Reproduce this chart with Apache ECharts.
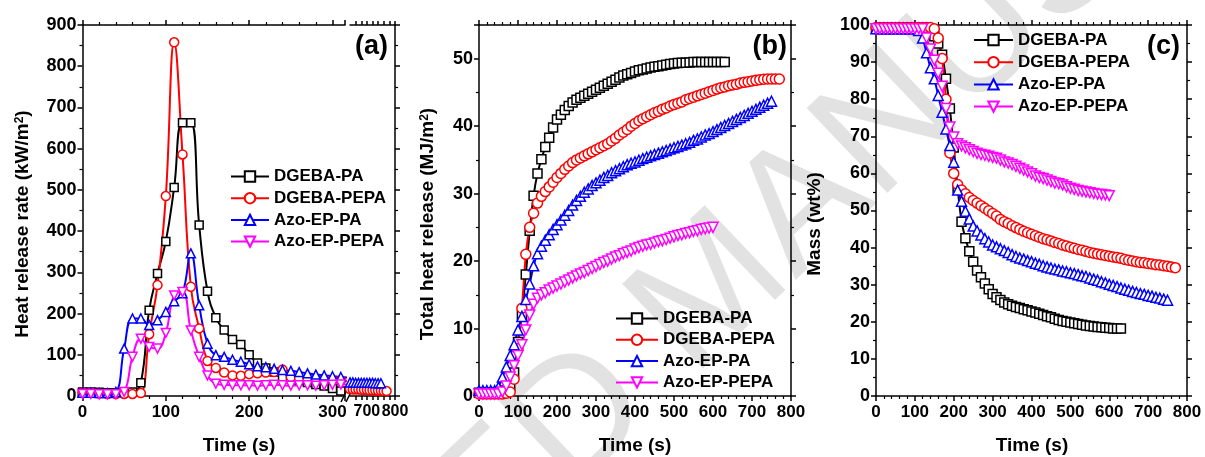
<!DOCTYPE html>
<html>
<head>
<meta charset="utf-8">
<title>HRR, THR and mass</title>
<script src="https://cdn.jsdelivr.net/npm/echarts@6.0.0/dist/echarts.min.js"></script>
<style>
  html, body { margin: 0; padding: 0; background: #fff; }
  #chart { width: 1205px; height: 457px; }
</style>
</head>
<body>
<div id="chart"></div>
<script>
// samples, same order in every panel
const sampleNames = ['DGEBA-PA', 'DGEBA-PEPA', 'Azo-EP-PA', 'Azo-EP-PEPA'];
const sampleColors = ['#000000', '#ff0000', '#0000ff', '#ff00ff'];
const sampleSymbols = ['rect', 'circle', 'triangle', 'triangle'];
const sampleRotate = [0, 0, 0, 180];

// (a) heat release rate (kW/m2), part before the axis break
const hrrTime = [0, 10, 20, 30, 40, 50, 60, 70, 80, 90, 100, 110, 120, 130, 140, 150, 160,
  170, 180, 190, 200, 210, 220, 230, 240, 250, 260, 270, 280, 290, 300, 310, 320];
const hrrDgebaPa = [10, 10, 9, 8, 8, 9, 10, 32, 208, 297, 375, 506, 663, 663, 415, 254, 190,
  160, 137, 125, 100, 80, 68, 58, 47, 42, 38, 33, 28, 24, 18, 12, 10];
const hrrDgebaPepa = [8, 7, 6, 5, 5, 5, 5, 7, 150, 269, 485, 858, 586, 265, 164, 85, 68,
  57, 50, 49, 53, 55, 57, 58, 64, 46, 43, 42, 41, 40, 39, 38, 37];
const hrrAzoPa = [8, 8, 7, 7, 10, 115, 188, 188, 172, 184, 204, 230, 249, 346, 220, 127, 99,
  95, 88, 83, 77, 72, 70, 66, 63, 61, 58, 55, 52, 50, 48, 46, 45];
const hrrAzoPepa = [5, 5, 4, 4, 4, 10, 95, 139, 119, 115, 153, 244, 252, 159, 95, 50, 30,
  27, 26, 26, 26, 25, 26, 27, 26, 25, 26, 26, 25, 26, 27, 28, 28];

// (a) after the break
const hrrTailTime = [630, 640, 650, 660, 670, 680, 690, 700, 710, 720, 730, 740, 750, 760, 770];
const hrrDgebaPepaTail = [17, 17, 16, 16, 16, 15, 15, 15, 14, 14, 14, 13, 13, 12, 12];
const hrrAzoPaTail = [33, 33, 33, 32, 32, 32, 32, 32, 32, 32, 31, 31, 31];

// (b) and (c) are sampled every 10 s
const time10 = [0, 10, 20, 30, 40, 50, 60, 70, 80, 90,
  100, 110, 120, 130, 140, 150, 160, 170, 180, 190,
  200, 210, 220, 230, 240, 250, 260, 270, 280, 290,
  300, 310, 320, 330, 340, 350, 360, 370, 380, 390,
  400, 410, 420, 430, 440, 450, 460, 470, 480, 490,
  500, 510, 520, 530, 540, 550, 560, 570, 580, 590,
  600, 610, 620, 630, 640, 650, 660, 670, 680, 690,
  700, 710, 720, 730, 740, 750, 760, 770];

// (b) total heat release (MJ/m2)
const thrDgebaPa = [0.5, 0.5, 0.5, 0.5, 0.5, 0.5, 0.6, 0.8, 1.5, 3.5,
  8, 12, 18, 24.5, 29.7, 33, 35.1, 36.9, 38.3, 39.8,
  41, 41.7, 42.4, 43, 43.5, 43.9, 44.2, 44.5, 44.8, 45.1,
  45.4, 45.7, 46, 46.3, 46.6, 46.9, 47.2, 47.5, 47.7, 47.9,
  48.1, 48.3, 48.4, 48.55, 48.7, 48.8, 48.9, 49, 49.1, 49.2,
  49.3, 49.35, 49.4, 49.4, 49.45, 49.5, 49.5, 49.5, 49.5, 49.5,
  49.5, 49.5, 49.5, 49.5];
const thrDgebaPepa = [0.3, 0.3, 0.3, 0.3, 0.3, 0.3, 0.3, 0.4, 0.6, 2.5,
  7, 13, 21, 25, 27.1, 28.6, 29.6, 30.3, 31, 31.7,
  32.4, 33, 33.6, 34.1, 34.6, 35, 35.3, 35.6, 35.9, 36.2,
  36.5, 36.8, 37.1, 37.4, 37.8, 38.2, 38.7, 39.1, 39.5, 40,
  40.4, 40.8, 41.1, 41.4, 41.7, 42, 42.2, 42.5, 42.7, 43,
  43.2, 43.4, 43.6, 43.9, 44.1, 44.3, 44.5, 44.7, 44.9, 45.1,
  45.3, 45.5, 45.7, 45.8, 46, 46.1, 46.2, 46.4, 46.5, 46.6,
  46.7, 46.8, 46.9, 46.95, 47, 47, 47, 47];
const thrAzoPa = [0.8, 0.8, 0.8, 0.8, 0.8, 1.3, 2.8, 4.3, 6, 7.6,
  9.8, 11.8, 14.3, 16.6, 19.3, 21.1, 22.2, 23.1, 23.9, 24.7,
  25.4, 26.1, 26.8, 27.5, 28.3, 29, 29.6, 30.2, 30.7, 31.2,
  31.6, 32, 32.4, 32.7, 33.1, 33.4, 33.7, 34, 34.3, 34.5,
  34.7, 34.95, 35.2, 35.4, 35.6, 35.8, 36, 36.2, 36.4, 36.6,
  36.8, 37, 37.2, 37.4, 37.6, 37.9, 38.1, 38.4, 38.7, 38.9,
  39.2, 39.5, 39.8, 40.1, 40.4, 40.7, 41, 41.3, 41.6, 41.9,
  42.2, 42.5, 42.8, 43.1, 43.4, 43.7];
const thrAzoPepa = [0.3, 0.3, 0.3, 0.3, 0.3, 0.3, 0.6, 1.5, 2.8, 4.5,
  6, 7.6, 9.8, 12, 13.6, 14.5, 15, 15.3, 15.7, 16,
  16.3, 16.6, 16.9, 17.2, 17.5, 17.8, 18.1, 18.3, 18.6, 18.9,
  19.2, 19.5, 19.8, 20, 20.3, 20.6, 20.8, 21.1, 21.3, 21.5,
  21.8, 22, 22.2, 22.4, 22.5, 22.7, 22.9, 23, 23.2, 23.4,
  23.6, 23.8, 23.9, 24.1, 24.2, 24.4, 24.5, 24.7, 24.8, 24.9,
  25];

// (c) residual mass (wt%)
const massDgebaPa = [99, 99, 99, 99, 99, 99, 99, 99, 99, 99,
  99, 99, 99, 99, 98.5, 97, 95, 92, 85.5, 77.5,
  67, 56, 47, 42.5, 39, 36.2, 33.8, 32, 30.3, 28.8,
  27.5, 26.6, 25.9, 25.2, 24.7, 24.3, 24, 23.7, 23.4, 23.1,
  22.8, 22.5, 22.2, 21.8, 21.5, 21.2, 20.8, 20.5, 20.2, 20,
  19.8, 19.6, 19.4, 19.2, 19, 18.9, 18.7, 18.6, 18.5, 18.4,
  18.3, 18.2, 18.2, 18.2];
const massDgebaPepa = [99.3, 99.3, 99.3, 99.3, 99.3, 99.3, 99.3, 99.3, 99.3, 99.3,
  99.3, 99.3, 99.3, 99.3, 99.3, 99, 96.5, 91, 80, 65.5,
  60, 57, 55.5, 54.5, 53.5, 52.7, 52, 51.3, 50.6, 49.9,
  49.2, 48.5, 47.6, 47, 46.5, 45.9, 45.4, 44.9, 44.4, 44,
  43.6, 43.2, 42.8, 42.4, 42.1, 41.8, 41.4, 41.1, 40.7, 40.4,
  40.1, 39.8, 39.5, 39.3, 39, 38.7, 38.5, 38.3, 38.1, 37.9,
  37.7, 37.5, 37.3, 37.1, 36.8, 36.6, 36.4, 36.2, 36, 35.9,
  35.7, 35.6, 35.4, 35.3, 35.1, 35, 34.8, 34.6];
const massAzoPa = [99, 99, 99, 99, 99, 99, 99, 99, 99, 99,
  99, 98.5, 96.5, 92.5, 88.5, 85.5, 81, 76.5, 72, 67.5,
  63, 55.5, 52.5, 49.8, 47.7, 45.8, 44.5, 43.4, 42.4, 41.5,
  40.7, 40.2, 39.7, 39.2, 38.7, 38.1, 37.6, 37.2, 36.9, 36.5,
  36.2, 35.8, 35.5, 35.1, 34.8, 34.5, 34.2, 34, 33.7, 33.5,
  33.2, 33, 32.7, 32.4, 32.2, 31.8, 31.5, 31.2, 30.8, 30.5,
  30.1, 29.8, 29.5, 29.1, 28.8, 28.5, 28.2, 27.9, 27.6, 27.4,
  27.1, 26.9, 26.6, 26.4, 26.1, 25.8];
const massAzoPepa = [99, 99, 99, 99, 99, 99, 99, 99, 99, 99,
  99, 99, 99, 96.5, 93.5, 90.5, 87, 83.5, 77.5, 72.5,
  69.8, 68, 67.4, 66.9, 66.4, 65.9, 65.4, 65.1, 64.9, 64.6,
  64.3, 64.1, 63.6, 63.1, 62.8, 62.4, 61.9, 61.4, 60.9, 60.4,
  59.9, 59.3, 58.9, 58.6, 58.2, 57.8, 57.4, 57.2, 56.9, 56.4,
  56, 55.7, 55.4, 55.2, 55, 54.8, 54.6, 54.4, 54.3, 54.2,
  54];

// tick labels shown on the broken axis of (a)
const hrrTailLabels = [700, 800];
const hrrTailTicks = [660, 680, 700, 720, 740, 760, 780, 800];

const FONT = '"Liberation Sans", Arial, sans-serif';

function pairs(times, values) {
  return values.map((v, i) => [times[i], v]);
}

function lineSeries(k, data, xi, yi, size, smooth) {
  return {
    name: sampleNames[k],
    type: 'line',
    xAxisIndex: xi,
    yAxisIndex: yi,
    data: data,
    smooth: smooth,
    symbol: sampleSymbols[k],
    symbolRotate: sampleRotate[k],
    symbolSize: size,
    lineStyle: { color: sampleColors[k], width: 2 },
    itemStyle: { color: '#fff', borderColor: sampleColors[k], borderWidth: 1.5 },
    emphasis: { disabled: true },
    clip: true
  };
}

const axisLine = { show: true, onZero: false, lineStyle: { color: '#000', width: 1.5 } };
const tick = { show: true, inside: false, length: 5, lineStyle: { color: '#000', width: 1.5 } };
const xLabel = { fontFamily: FONT, fontWeight: 'bold', fontSize: 17, color: '#000', margin: 8 };
const yLabel = { fontFamily: FONT, fontWeight: 'bold', fontSize: 18, color: '#000', margin: 6 };

function xAxis(grid, pos, min, max, extra) {
  return Object.assign({
    type: 'value', gridIndex: grid, position: pos, min: min, max: max,
    axisLine: axisLine, axisTick: tick, splitLine: { show: false },
    minorTick: { show: true, splitNumber: 5, length: 3, lineStyle: { color: '#000', width: 1.2 } },
    axisLabel: pos === 'bottom' ? xLabel : { show: false }
  }, extra || {});
}

function yAxis(grid, pos, min, max, extra) {
  return Object.assign({
    type: 'value', gridIndex: grid, position: pos, min: min, max: max,
    axisLine: axisLine, axisTick: tick, splitLine: { show: false },
    minorTick: { show: true, splitNumber: 2, length: 3, lineStyle: { color: '#000', width: 1.2 } },
    axisLabel: pos === 'left' ? yLabel : { show: false }
  }, extra || {});
}

const hide100 = v => (v % 100 === 0 ? String(v) : '');
const hide10 = v => (v % 10 === 0 ? String(v) : '');

const tailX = {
  axisLabel: Object.assign({}, xLabel, {
    fontSize: 16, customValues: hrrTailLabels, showMinLabel: true, showMaxLabel: true, hideOverlap: false
  }),
  axisTick: Object.assign({}, tick, { customValues: hrrTailTicks, length: 4 }),
  minorTick: { show: false }
};
const tailXTop = {
  axisTick: Object.assign({}, tick, { customValues: hrrTailTicks, length: 4 }),
  minorTick: { show: false }
};

const legendText = { fontFamily: FONT, fontWeight: 'bold', fontSize: 17, color: '#000' };
function legend(left, top, width, gap) {
  return {
    orient: 'vertical', left: left, top: top, padding: 0,
    itemWidth: width, itemHeight: 13, itemGap: gap,
    selectedMode: false, data: sampleNames, textStyle: legendText
  };
}

function label(text, x, y, size, rot, align) {
  return {
    type: 'text', x: x, y: y, rotation: rot || 0, silent: true,
    style: {
      text: text, fill: '#000', fontFamily: FONT, fontWeight: 'bold', fontSize: size,
      align: align || 'center', verticalAlign: 'middle',
      rich: { sup: { fontFamily: FONT, fontWeight: 'bold', fontSize: 12, verticalAlign: 'top', fill: '#000' } }
    }
  };
}

const series = [];
[hrrDgebaPa, hrrDgebaPepa, hrrAzoPa, hrrAzoPepa].forEach((v, k) => {
  series.push(lineSeries(k, pairs(hrrTime, v), 0, 0, k === 0 ? 8 : 9, 0.45));
});
series.push(lineSeries(1, pairs(hrrTailTime, hrrDgebaPepaTail), 2, 1, 9, 0.3));
series.push(lineSeries(2, pairs(hrrTailTime, hrrAzoPaTail), 2, 1, 9, 0.3));
[thrDgebaPa, thrDgebaPepa, thrAzoPa, thrAzoPepa].forEach((v, k) => {
  series.push(lineSeries(k, pairs(time10, v), 4, 3, k === 0 ? 9 : 10, 0.2));
});
[massDgebaPa, massDgebaPepa, massAzoPa, massAzoPepa].forEach((v, k) => {
  series.push(lineSeries(k, pairs(time10, v), 6, 5, k === 0 ? 9 : 10, 0.2));
});

const chart = echarts.init(document.getElementById('chart'), null, { renderer: 'canvas' });
chart.setOption({
  animation: false,
  backgroundColor: '#fff',
  grid: [
    { left: 82.5, top: 25, width: 262.5, height: 371 },
    { left: 350, top: 25, width: 45, height: 371 },
    { left: 479, top: 25, width: 312, height: 371 },
    { left: 876, top: 25, width: 311, height: 371 }
  ],
  xAxis: [
    xAxis(0, 'bottom', 0, 315, { interval: 100, axisLabel: Object.assign({}, xLabel, { formatter: hide100 }) }),
    xAxis(0, 'top', 0, 315, { interval: 100 }),
    xAxis(1, 'bottom', 640, 800, tailX),
    xAxis(1, 'top', 640, 800, tailXTop),
    xAxis(2, 'bottom', 0, 800, { interval: 100 }),
    xAxis(2, 'top', 0, 800, { interval: 100 }),
    xAxis(3, 'bottom', 0, 800, { interval: 100 }),
    xAxis(3, 'top', 0, 800, { interval: 100 })
  ],
  yAxis: [
    yAxis(0, 'left', 0, 900, { interval: 100 }),
    yAxis(1, 'left', 0, 900, { show: false }),
    yAxis(1, 'right', 0, 900, { interval: 100 }),
    yAxis(2, 'left', 0, 55, { interval: 10, axisLabel: Object.assign({}, yLabel, { formatter: hide10 }) }),
    yAxis(2, 'right', 0, 55, { interval: 10 }),
    yAxis(3, 'left', 0, 100, { interval: 10 }),
    yAxis(3, 'right', 0, 100, { interval: 10 })
  ],
  legend: [
    legend(230, 168, 38, 4.7),
    legend(615, 310, 42, 4.3),
    legend(973, 31.5, 39, 5.2)
  ],
  graphic: [
    {
      type: 'text', x: 715, y: 292, rotation: 43.6 * Math.PI / 180, z: -10, silent: true,
      style: { text: 'ACCEPTED MANUSCRIPT', fill: '#e2e2e2', fontFamily: FONT, fontSize: 170,
        align: 'center', verticalAlign: 'middle' }
    },
    label('(a)', 388, 47, 27, 0, 'right'),
    label('(b)', 787, 47, 27, 0, 'right'),
    label('(c)', 1180, 47, 27, 0, 'right'),
    label('Time (s)', 239, 446, 19),
    label('Time (s)', 635, 446, 19),
    label('Time (s)', 1032, 446, 19),
    label('Heat release rate (kW/m{sup|2})', 23, 224, 19, Math.PI / 2),
    label('Total heat release (MJ/m{sup|2})', 428, 224, 19, Math.PI / 2),
    label('Mass (wt%)', 815, 224, 19, Math.PI / 2),
    { type: 'line', silent: true, shape: { x1: 341, y1: 402, x2: 347, y2: 390 }, style: { stroke: '#000', lineWidth: 1.5 } },
    { type: 'line', silent: true, shape: { x1: 346, y1: 402, x2: 352, y2: 390 }, style: { stroke: '#000', lineWidth: 1.5 } }
  ],
  series: series
});
</script>
</body>
</html>
